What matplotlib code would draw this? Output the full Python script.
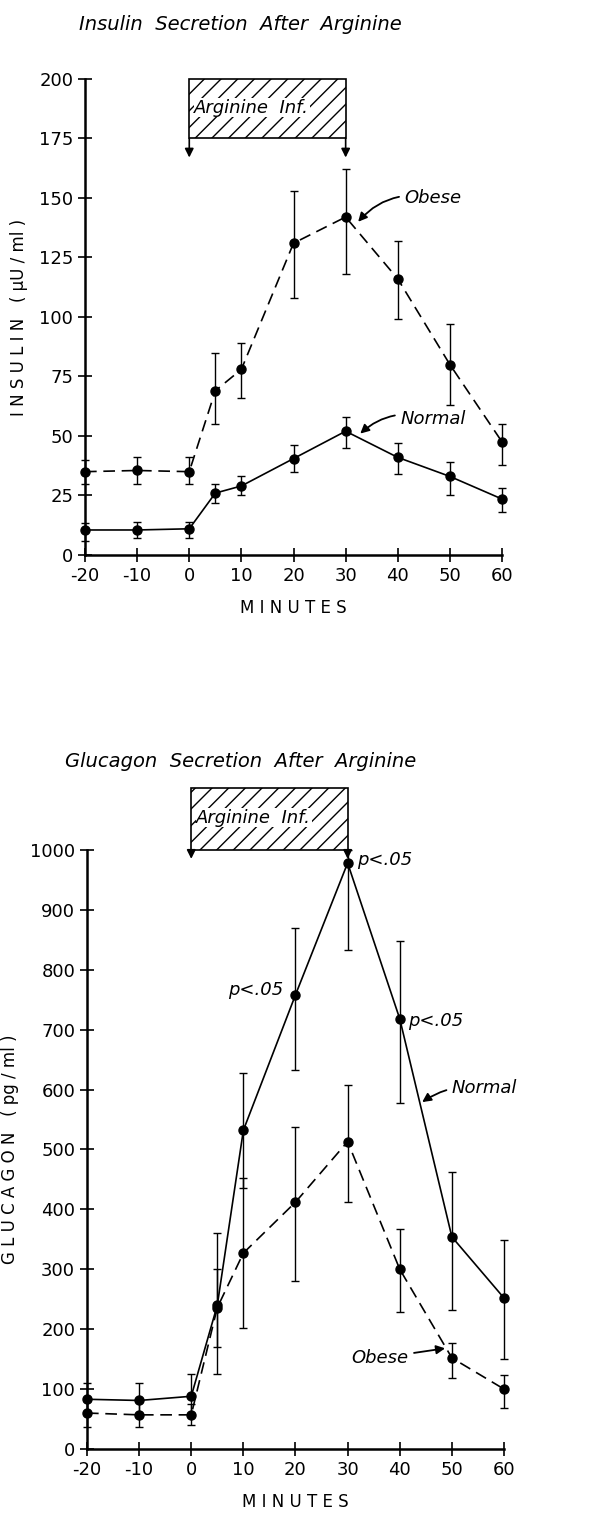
import matplotlib.pyplot as plt
from matplotlib.patches import Rectangle

plt.rcParams['axes.unicode_minus'] = False
plt.rcParams['hatch.linewidth'] = 1.0

minutes = [-20, -10, 0, 5, 10, 20, 30, 40, 50, 60]
xticks = [-20, -10, 0, 10, 20, 30, 40, 50, 60]

# insulin (uU/ml)
ins_obese = [35, 35.5, 35, 69, 78, 131, 142, 116, 80, 47.5]
ins_obese_hi = [40, 41, 41, 85, 89, 153, 162, 132, 97, 55]
ins_obese_lo = [30, 30, 30, 55, 66, 108, 118, 99, 63, 38]
ins_normal = [10.5, 10.5, 11, 26, 29, 40.5, 52, 41, 33, 23.5]
ins_normal_hi = [13.5, 14, 14, 30, 33, 46, 58, 47, 39, 28]
ins_normal_lo = [6, 7, 7, 22, 25, 35, 45, 34, 25, 18]

# glucagon (pg/ml)
glu_normal = [83, 81, 88, 240, 532, 758, 978, 718, 354, 252]
glu_normal_hi = [110, 110, 125, 360, 628, 870, 1000, 848, 463, 348]
glu_normal_lo = [60, 55, 60, 125, 436, 632, 833, 577, 232, 150]
glu_obese = [60, 57, 57, 236, 327, 412, 513, 300, 152, 100]
glu_obese_hi = [80, 80, 75, 300, 452, 538, 607, 367, 177, 123]
glu_obese_lo = [37, 37, 40, 170, 202, 280, 413, 229, 118, 69]


def series(ax, y, hi, lo, ls):
    err = [[v - l for v, l in zip(y, lo)], [h - v for v, h in zip(y, hi)]]
    ax.errorbar(minutes, y, yerr=err, fmt='o', color='black', ls=ls,
                lw=1.2, ms=6.5, capsize=3, elinewidth=1.0,
                dashes=(7, 4) if ls == '--' else (None, None),
                clip_on=False, zorder=3)


def base(ax, ylim, yticks, ylabel):
    ax.set_xlim(-20, 60)
    ax.set_ylim(*ylim)
    ax.set_xticks(xticks)
    ax.set_yticks(yticks)
    ax.spines['top'].set_visible(False)
    ax.spines['right'].set_visible(False)
    ax.spines['left'].set_linewidth(1.8)
    ax.spines['bottom'].set_linewidth(1.8)
    ax.tick_params(direction='inout', length=10, width=1.2, labelsize=13)
    ax.set_xlabel('M I N U T E S', fontsize=12, labelpad=10)
    ax.set_ylabel(ylabel, fontsize=12, labelpad=8)


def infusion(ax, y0, h, tip):
    ax.add_patch(Rectangle((0, y0), 30, h, hatch='//', fill=False, lw=1.2,
                           clip_on=False, zorder=2))
    ax.text(12, y0 + h * 0.52, 'Arginine  Inf.', style='italic', fontsize=13,
            ha='center', va='center', zorder=4,
            bbox=dict(fc='white', ec='none', pad=0.5))
    for xx in (0, 30):
        ax.annotate('', xy=(xx, tip), xytext=(xx, y0), annotation_clip=False,
                    arrowprops=dict(arrowstyle='-|>', color='black', lw=1.2,
                                    mutation_scale=13, shrinkA=0, shrinkB=0))


arrow = dict(arrowstyle='-|>', color='black', lw=1.3, mutation_scale=13,
             shrinkA=2, shrinkB=0)

fig = plt.figure(figsize=(6.16, 15.13), dpi=100)

ax1 = fig.add_axes([0.138, 0.6332, 0.677, 0.3146])
base(ax1, (0, 200), [0, 25, 50, 75, 100, 125, 150, 175, 200], 'I N S U L I N   ( \u03bcU / ml )')
series(ax1, ins_obese, ins_obese_hi, ins_obese_lo, '--')
series(ax1, ins_normal, ins_normal_hi, ins_normal_lo, '-')
infusion(ax1, 175, 25, 167)
ax1.annotate('Obese', xy=(32.4, 140), xytext=(41.3, 150), style='italic', fontsize=13,
             va='center', arrowprops=dict(arrow, connectionstyle='arc3,rad=0.3'))
ax1.annotate('Normal', xy=(32.8, 51), xytext=(40.5, 57), style='italic', fontsize=13,
             va='center', arrowprops=dict(arrow, connectionstyle='arc3,rad=0.3'))
fig.text(0.39, 0.984, 'Insulin  Secretion  After  Arginine', style='italic',
         fontsize=14, ha='center', va='center')

ax2 = fig.add_axes([0.1412, 0.0423, 0.677, 0.396])
base(ax2, (0, 1000), list(range(0, 1001, 100)), 'G L U C A G O N   ( pg / ml )')
series(ax2, glu_normal, glu_normal_hi, glu_normal_lo, '-')
series(ax2, glu_obese, glu_obese_hi, glu_obese_lo, '--')
infusion(ax2, 1000, 103, 985)
ax2.text(31.8, 983, 'p<.05', style='italic', fontsize=13, va='center')
ax2.text(17.6, 766, 'p<.05', style='italic', fontsize=13, va='center', ha='right')
ax2.text(41.6, 714, 'p<.05', style='italic', fontsize=13, va='center')
ax2.annotate('Normal', xy=(44.3, 579), xytext=(50, 603), style='italic', fontsize=13,
             va='center', arrowprops=dict(arrow, connectionstyle='arc3,rad=0.2'))
ax2.annotate('Obese', xy=(48.7, 168), xytext=(36.2, 152), style='italic', fontsize=13,
             va='center', ha='center', arrowprops=arrow)
fig.text(0.39, 0.4965, 'Glucagon  Secretion  After  Arginine', style='italic',
         fontsize=14, ha='center', va='center')

fig.savefig('out.png', dpi=100)
